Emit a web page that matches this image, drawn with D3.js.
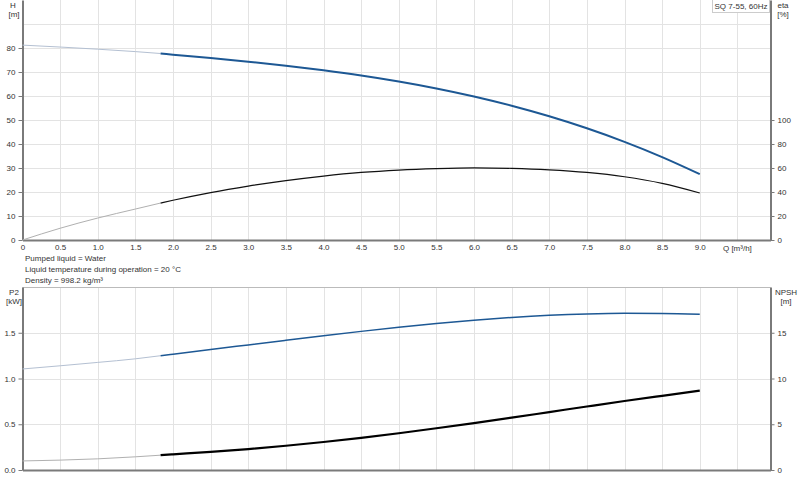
<!DOCTYPE html>
<html><head><meta charset="utf-8">
<script src="https://cdn.jsdelivr.net/npm/d3@7/dist/d3.min.js"></script>
<style>
html,body{margin:0;padding:0;background:#fff;}
svg{display:block;font-family:"Liberation Sans",Arial,sans-serif;}
</style></head><body>
<svg id="c" width="800" height="481"></svg>
<script>
// ---- data ----
const Q      = [0, 0.5, 1.0, 1.5, 1.835, 2.0, 2.5, 3.0, 3.5, 4.0, 4.5, 5.0, 5.5, 6.0, 6.5, 7.0, 7.5, 8.0, 8.5, 9.0];
const H      = [81.2, 80.4, 79.5, 78.5, 77.7, 77.2, 75.8, 74.3, 72.6, 70.7, 68.55, 66.05, 63.15, 59.8, 55.95, 51.55, 46.55, 40.9, 34.55, 27.45];
const ETA    = [0, 9.8, 18.3, 25.8, 30.8, 33.1, 39.5, 44.9, 49.5, 53.3, 56.3, 58.3, 59.5, 60.1, 59.7, 58.5, 56.3, 52.7, 47.2, 39.2];
const P2     = [1.104, 1.139, 1.176, 1.215, 1.249, 1.266, 1.317, 1.367, 1.417, 1.467, 1.515, 1.560, 1.601, 1.637, 1.667, 1.690, 1.705, 1.712, 1.711, 1.701];
const NPSH   = [0.99, 1.08, 1.22, 1.44, 1.62, 1.71, 1.98, 2.29, 2.65, 3.06, 3.52, 4.02, 4.56, 5.13, 5.72, 6.33, 6.94, 7.54, 8.11, 8.67];
const Q_OP_START = 1.835;
const xTicks  = [0, 0.5, 1.0, 1.5, 2.0, 2.5, 3.0, 3.5, 4.0, 4.5, 5.0, 5.5, 6.0, 6.5, 7.0, 7.5, 8.0, 8.5, 9.0];
const xGrid   = [0.5, 1.0, 1.5, 2.0, 2.5, 3.0, 3.5, 4.0, 4.5, 5.0, 5.5, 6.0, 6.5, 7.0, 7.5, 8.0, 8.5, 9.0, 9.5];
const hTicks  = [0, 10, 20, 30, 40, 50, 60, 70, 80];
const hGrid   = [10, 20, 30, 40, 50, 60, 70, 80, 90];
const etaTicks= [0, 20, 40, 60, 80, 100];
const p2Ticks = [0, 0.5, 1.0, 1.5];
const p2Grid  = [0.5, 1.0, 1.5];
const npshTicks=[0, 5, 10, 15];
const infoLines = ["Pumped liquid = Water", "Liquid temperature during operation = 20 °C", "Density = 998.2 kg/m³"];
const legendText = "SQ 7-55, 60Hz";

// ---- layout ----
const svg = d3.select("#c");
const L = 22.5, R = 770.5;
const x = d3.scaleLinear().domain([0, 9.94]).range([L, R]);
const top1 = 0, bot1 = 240, top2 = 287, bot2 = 470;
const yH = d3.scaleLinear().domain([0, 100]).range([bot1, top1]);
const yEta = d3.scaleLinear().domain([0, 200]).range([bot1, top1]);
const yP = d3.scaleLinear().domain([0, 2]).range([bot2, top2]);
const yN = d3.scaleLinear().domain([0, 20]).range([bot2, top2]);

const gridC = "#e3e3e3", axisC = "#7a7a7a", txtC = "#333", fs = 8;
const blue = "#1d5894";

function grid(yScale, ys, t, b) {
  const g = svg.append("g");
  g.selectAll("line.v").data(xGrid).join("line")
    .attr("x1", d => Math.round(x(d)) + 0.5).attr("x2", d => Math.round(x(d)) + 0.5)
    .attr("y1", t).attr("y2", b).attr("stroke", gridC).attr("stroke-width", 1);
  g.selectAll("line.h").data(ys).join("line")
    .attr("x1", L).attr("x2", R)
    .attr("y1", d => Math.round(yScale(d)) + 0.5).attr("y2", d => Math.round(yScale(d)) + 0.5)
    .attr("stroke", gridC).attr("stroke-width", 1);
}
grid(yH, hGrid, top1, bot1);
grid(yP, p2Grid, top2, bot2);
svg.append("line").attr("x1", L).attr("x2", R).attr("y1", top2 + 0.5).attr("y2", top2 + 0.5).attr("stroke", "#bbb");

function styleAxis(g) {
  g.select(".domain").attr("stroke", axisC).attr("stroke-width", 2);
  g.selectAll(".tick line").attr("stroke", axisC);
  g.selectAll(".tick text").attr("fill", txtC).style("font-size", fs + "px");
}

// top chart axes
svg.append("g").attr("transform", `translate(${L},0)`)
  .call(d3.axisLeft(yH).tickValues(hTicks).tickSize(4).tickSizeOuter(0).tickPadding(3).tickFormat(d3.format("d")))
  .call(styleAxis);
svg.append("g").attr("transform", `translate(${R},0)`)
  .call(d3.axisRight(yEta).tickValues(etaTicks).tickSize(4).tickSizeOuter(0).tickPadding(3).tickFormat(d3.format("d")))
  .call(styleAxis);
svg.append("g").attr("transform", `translate(0,${bot1})`)
  .call(d3.axisBottom(x).tickValues(xTicks).tickSize(0).tickSizeOuter(0).tickPadding(4).tickFormat(d => d === 0 ? "0" : d3.format(".1f")(d)))
  .call(styleAxis);
svg.append("text").attr("x", x(9.5)).attr("y", bot1 + 11).attr("text-anchor", "middle")
  .attr("fill", txtC).style("font-size", fs + "px").text("Q [m³/h]");

// bottom chart axes
svg.append("g").attr("transform", `translate(${L},0)`)
  .call(d3.axisLeft(yP).tickValues(p2Ticks).tickSize(4).tickSizeOuter(0).tickPadding(3).tickFormat(d3.format(".1f")))
  .call(styleAxis);
svg.append("g").attr("transform", `translate(${R},0)`)
  .call(d3.axisRight(yN).tickValues(npshTicks).tickSize(4).tickSizeOuter(0).tickPadding(3).tickFormat(d3.format("d")))
  .call(styleAxis);
svg.append("g").attr("transform", `translate(0,${bot2})`)
  .call(d3.axisBottom(x).tickValues([]).tickSize(0).tickSizeOuter(0))
  .call(styleAxis);

// axis titles
function label(xp, yp, t, anchor) {
  svg.append("text").attr("x", xp).attr("y", yp).attr("text-anchor", anchor || "middle")
    .attr("fill", txtC).style("font-size", fs + "px").text(t);
}
label(13, 8, "H"); label(14, 17, "[m]");
label(783, 8, "eta"); label(783, 17, "[%]");
label(14, 295, "P2"); label(14, 304, "[kW]");
label(786, 295, "NPSH"); label(786, 304, "[m]");

infoLines.forEach((t, i) => label(25, 261 + i * 11, t, "start"));

// legend
const lg = svg.append("g");
lg.append("rect").attr("x", 712.5).attr("y", -0.5).attr("width", 57).attr("height", 13)
  .attr("fill", "#fff").attr("stroke", "#ccc");
lg.append("text").attr("x", 741).attr("y", 9).attr("text-anchor", "middle")
  .attr("fill", txtC).style("font-size", fs + "px").text(legendText);

// curves
const pts = (ys) => Q.map((q, i) => [q, ys[i]]);
function curve(ys, yScale, lightC, lightW, mainC, mainW) {
  const all = pts(ys);
  const light = all.filter(p => p[0] <= Q_OP_START);
  const main = all.filter(p => p[0] >= Q_OP_START);
  const line = d3.line().x(p => x(p[0])).y(p => yScale(p[1])).curve(d3.curveMonotoneX);
  svg.append("path").attr("d", line(light)).attr("fill", "none").attr("stroke", lightC).attr("stroke-width", lightW);
  svg.append("path").attr("d", line(main)).attr("fill", "none").attr("stroke", mainC).attr("stroke-width", mainW);
}
curve(H, yH, "#b4c0d2", 1, blue, 2);
curve(ETA, yEta, "#b0b0b0", 1, "#111", 1.2);
curve(P2, yP, "#b4c0d2", 1, blue, 1.5);
curve(NPSH, yN, "#b0b0b0", 1, "#000", 2.2);
</script>
</body></html>
